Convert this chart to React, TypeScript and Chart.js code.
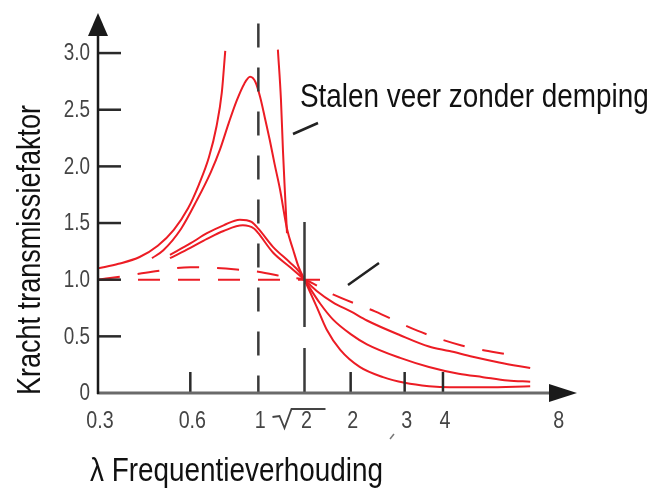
import { useEffect, useRef } from 'react';
import { Chart, registerables } from 'chart.js';

Chart.register(...registerables);

// ---- data ----
const undampedLeftX = [0.3, 0.35, 0.41, 0.47, 0.53, 0.59, 0.64, 0.69, 0.73, 0.76, 0.78];
const undampedLeftY = [1.1, 1.14, 1.2, 1.3, 1.44, 1.63, 1.84, 2.08, 2.35, 2.65, 3.02];

const undampedRightX = [1.158, 1.185, 1.203, 1.22, 1.24];
const undampedRightY = [3.03, 2.59, 2.14, 1.79, 1.41];

const lowDampX = [0.45, 0.49, 0.56, 0.63, 0.7, 0.75, 0.8, 0.85, 0.9, 0.94, 0.98, 1.014, 1.05, 1.09, 1.13, 1.176, 1.24, 1.3, 1.35, 1.414, 1.55, 1.67, 1.85, 2.14, 2.55, 3.0, 3.6, 4.2, 5.5, 7.7];
const lowDampY = [1.19, 1.26, 1.45, 1.7, 1.95, 2.15, 2.38, 2.58, 2.73, 2.79, 2.74, 2.61, 2.43, 2.23, 2.02, 1.8, 1.45, 1.26, 1.12, 1.0, 0.76, 0.56, 0.38, 0.23, 0.14, 0.09, 0.06, 0.05, 0.05, 0.06];

const midDampX = [0.515, 0.6, 0.68, 0.77, 0.87, 0.95, 1.0, 1.116, 1.27, 1.36, 1.414, 1.59, 1.75, 2.0, 2.26, 2.9, 3.6, 4.5, 5.4, 6.5, 7.7];
const midDampY = [1.22, 1.32, 1.41, 1.48, 1.53, 1.51, 1.45, 1.29, 1.15, 1.07, 1.0, 0.79, 0.65, 0.52, 0.43, 0.31, 0.23, 0.17, 0.14, 0.11, 0.1];

const highDampX = [0.515, 0.6, 0.68, 0.77, 0.89, 0.97, 1.0, 1.116, 1.27, 1.414, 1.55, 1.75, 2.0, 2.26, 2.9, 3.6, 4.2, 5.0, 6.1, 7.7];
const highDampY = [1.19, 1.28, 1.36, 1.43, 1.48, 1.45, 1.41, 1.24, 1.11, 1.0, 0.9, 0.8, 0.72, 0.64, 0.51, 0.41, 0.37, 0.32, 0.27, 0.22];

const rubberX = [0.3, 0.36, 0.45, 0.6, 0.85, 1.0, 1.25, 1.414, 1.75, 2.4, 3.3, 4.6, 6.8];
const rubberY = [1.0, 1.03, 1.07, 1.11, 1.09, 1.07, 1.02, 1.0, 0.87, 0.72, 0.55, 0.42, 0.33];

const rigidX = [0.3, 1.71];
const rigidY = [1.0, 1.0];

const yTickValues = [0, 0.5, 1, 1.5, 2, 2.5, 3];
const yTickLabels = ['0', '0.5', '1.0', '1.5', '2.0', '2.5', '3.0'];
const xTickValues = [0.3, 0.6, 1, Math.SQRT2, 2, 3, 4, 9.4];
const xTickLabels = ['0.3', '0.6', '1', '√2', '2', '3', '4', '8'];
const xTickMarks = [0.6, 2, 3, 4];

const yTitle = 'Kracht transmissiefaktor';
const xTitle = 'λ Frequentieverhouding';
const note = 'Stalen veer zonder demping';

const RED = '#ec1c24';
const FONT = '"Liberation Sans", Arial, sans-serif';
const NARROW = 0.82;

const pts = (xs: number[], ys: number[]) => xs.map((x, i) => ({ x, y: ys[i] }));

const line = (xs: number[], ys: number[], dashed = false) => ({
  data: pts(xs, ys),
  showLine: true,
  borderColor: RED,
  borderWidth: 2,
  pointRadius: 0,
  cubicInterpolationMode: 'monotone' as const,
  borderDash: dashed ? [22, 18] : [],
  clip: false as any,
});

// condensed text: horizontal squeeze of a regular sans
function narrowText(
  ctx: CanvasRenderingContext2D,
  text: string,
  x: number,
  y: number,
  size: number,
  align: CanvasTextAlign,
  baseline: CanvasTextBaseline,
  rotate = 0
) {
  ctx.save();
  ctx.translate(x, y);
  if (rotate) ctx.rotate(rotate);
  ctx.scale(NARROW, 1);
  ctx.font = `${size}px ${FONT}`;
  ctx.textAlign = align;
  ctx.textBaseline = baseline;
  ctx.fillText(text, 0, 0);
  ctx.restore();
}

const decor = {
  id: 'decor',
  afterDatasetsDraw(chart: any) {
    const ctx: CanvasRenderingContext2D = chart.ctx;
    const xs = chart.scales.x;
    const ys = chart.scales.y;
    const x0 = chart.chartArea.left;
    const yBase = ys.getPixelForValue(0);
    const top = chart.chartArea.top;
    ctx.save();

    // dashed vertical at 1
    const p1 = xs.getPixelForValue(1);
    ctx.strokeStyle = '#3a3a3a';
    ctx.lineWidth = 2.5;
    ctx.setLineDash([24, 20]);
    ctx.beginPath();
    ctx.moveTo(p1, ys.getPixelForValue(3.26));
    ctx.lineTo(p1, yBase);
    ctx.stroke();

    // long-dashed vertical at sqrt2
    const ps = xs.getPixelForValue(Math.SQRT2);
    ctx.setLineDash([105, 21]);
    ctx.beginPath();
    ctx.moveTo(ps, ys.getPixelForValue(1.51));
    ctx.lineTo(ps, yBase);
    ctx.stroke();
    ctx.setLineDash([]);

    // y ticks (inside)
    ctx.strokeStyle = '#2a2a2a';
    ctx.lineWidth = 2.5;
    yTickValues.forEach((v) => {
      if (v === 0) return;
      const py = ys.getPixelForValue(v);
      ctx.beginPath();
      ctx.moveTo(x0, py);
      ctx.lineTo(x0 + 23, py);
      ctx.stroke();
    });
    // x ticks (upwards)
    xTickMarks.forEach((v) => {
      const px = xs.getPixelForValue(v);
      ctx.beginPath();
      ctx.moveTo(px, yBase);
      ctx.lineTo(px, yBase - 21);
      ctx.stroke();
    });

    // x axis
    ctx.strokeStyle = '#6a6a6a';
    ctx.lineWidth = 3;
    ctx.beginPath();
    ctx.moveTo(x0 - 1, yBase);
    ctx.lineTo(552, yBase);
    ctx.stroke();
    ctx.fillStyle = '#1a1a1a';
    ctx.beginPath();
    ctx.moveTo(577, yBase);
    ctx.lineTo(549, yBase - 9);
    ctx.lineTo(549, yBase + 9);
    ctx.closePath();
    ctx.fill();

    // y axis
    ctx.strokeStyle = '#1a1a1a';
    ctx.lineWidth = 2.5;
    ctx.beginPath();
    ctx.moveTo(x0, yBase + 1);
    ctx.lineTo(x0, top + 20);
    ctx.stroke();
    ctx.beginPath();
    ctx.moveTo(x0, top - 2);
    ctx.lineTo(x0 - 10, top + 21);
    ctx.lineTo(x0 + 10, top + 21);
    ctx.closePath();
    ctx.fill();

    // y tick labels
    ctx.fillStyle = '#444';
    yTickValues.forEach((v, i) => {
      narrowText(ctx, yTickLabels[i], 90, ys.getPixelForValue(v) + 1, 23, 'right', 'middle');
    });

    // x tick labels
    xTickValues.forEach((v, i) => {
      const px = xs.getPixelForValue(v);
      const lab = xTickLabels[i];
      if (lab === '√2') {
        narrowText(ctx, '2', px + 2, 428, 24, 'center', 'alphabetic');
        ctx.strokeStyle = '#444';
        ctx.lineWidth = 1.8;
        ctx.beginPath();
        ctx.moveTo(px - 32, 417);
        ctx.lineTo(px - 25, 416);
        ctx.lineTo(px - 20, 428);
        ctx.lineTo(px - 13, 409);
        ctx.lineTo(px + 21, 409);
        ctx.stroke();
      } else {
        narrowText(ctx, lab, px + 2, 428, 24, 'center', 'alphabetic');
      }
    });

    // small stray mark under "3"
    ctx.strokeStyle = '#777';
    ctx.lineWidth = 1.5;
    ctx.beginPath();
    ctx.moveTo(390, 439);
    ctx.lineTo(394, 434);
    ctx.stroke();

    // annotation lines
    ctx.strokeStyle = '#222';
    ctx.lineWidth = 2.5;
    ctx.beginPath();
    ctx.moveTo(293, 134);
    ctx.lineTo(318, 123);
    ctx.moveTo(348, 285);
    ctx.lineTo(379, 263);
    ctx.stroke();

    // texts
    ctx.fillStyle = '#111';
    narrowText(ctx, note, 300, 107, 34, 'left', 'alphabetic');
    narrowText(ctx, xTitle, 90, 481, 34, 'left', 'alphabetic');
    narrowText(ctx, yTitle, 40, 250, 33, 'center', 'alphabetic', -Math.PI / 2);

    ctx.restore();
  },
};

export default function App() {
  const ref = useRef<HTMLCanvasElement>(null);
  useEffect(() => {
    const canvas = ref.current!;
    const chart = new Chart(canvas, {
      type: 'scatter',
      data: {
        datasets: [
          line(rigidX, rigidY, true),
          line(rubberX, rubberY, true),
          line(undampedLeftX, undampedLeftY),
          line(undampedRightX, undampedRightY),
          line(lowDampX, lowDampY),
          line(midDampX, midDampY),
          line(highDampX, highDampY),
        ] as any,
      },
      options: {
        responsive: false,
        animation: false,
        devicePixelRatio: 1,
        layout: { padding: { left: 98, top: 15, right: 88, bottom: 95 } },
        plugins: { legend: { display: false }, tooltip: { enabled: false } },
        scales: {
          x: { type: 'logarithmic', min: 0.3, max: 10, display: false },
          y: { type: 'linear', min: 0, max: 3.336, display: false },
        },
      } as any,
      plugins: [decor],
    });
    return () => chart.destroy();
  }, []);
  return (
    <div style={{ position: 'fixed', left: 0, top: 0, width: 653, height: 488, background: '#fff' }}>
      <canvas ref={ref} width={653} height={488} style={{ display: 'block' }} />
    </div>
  );
}
